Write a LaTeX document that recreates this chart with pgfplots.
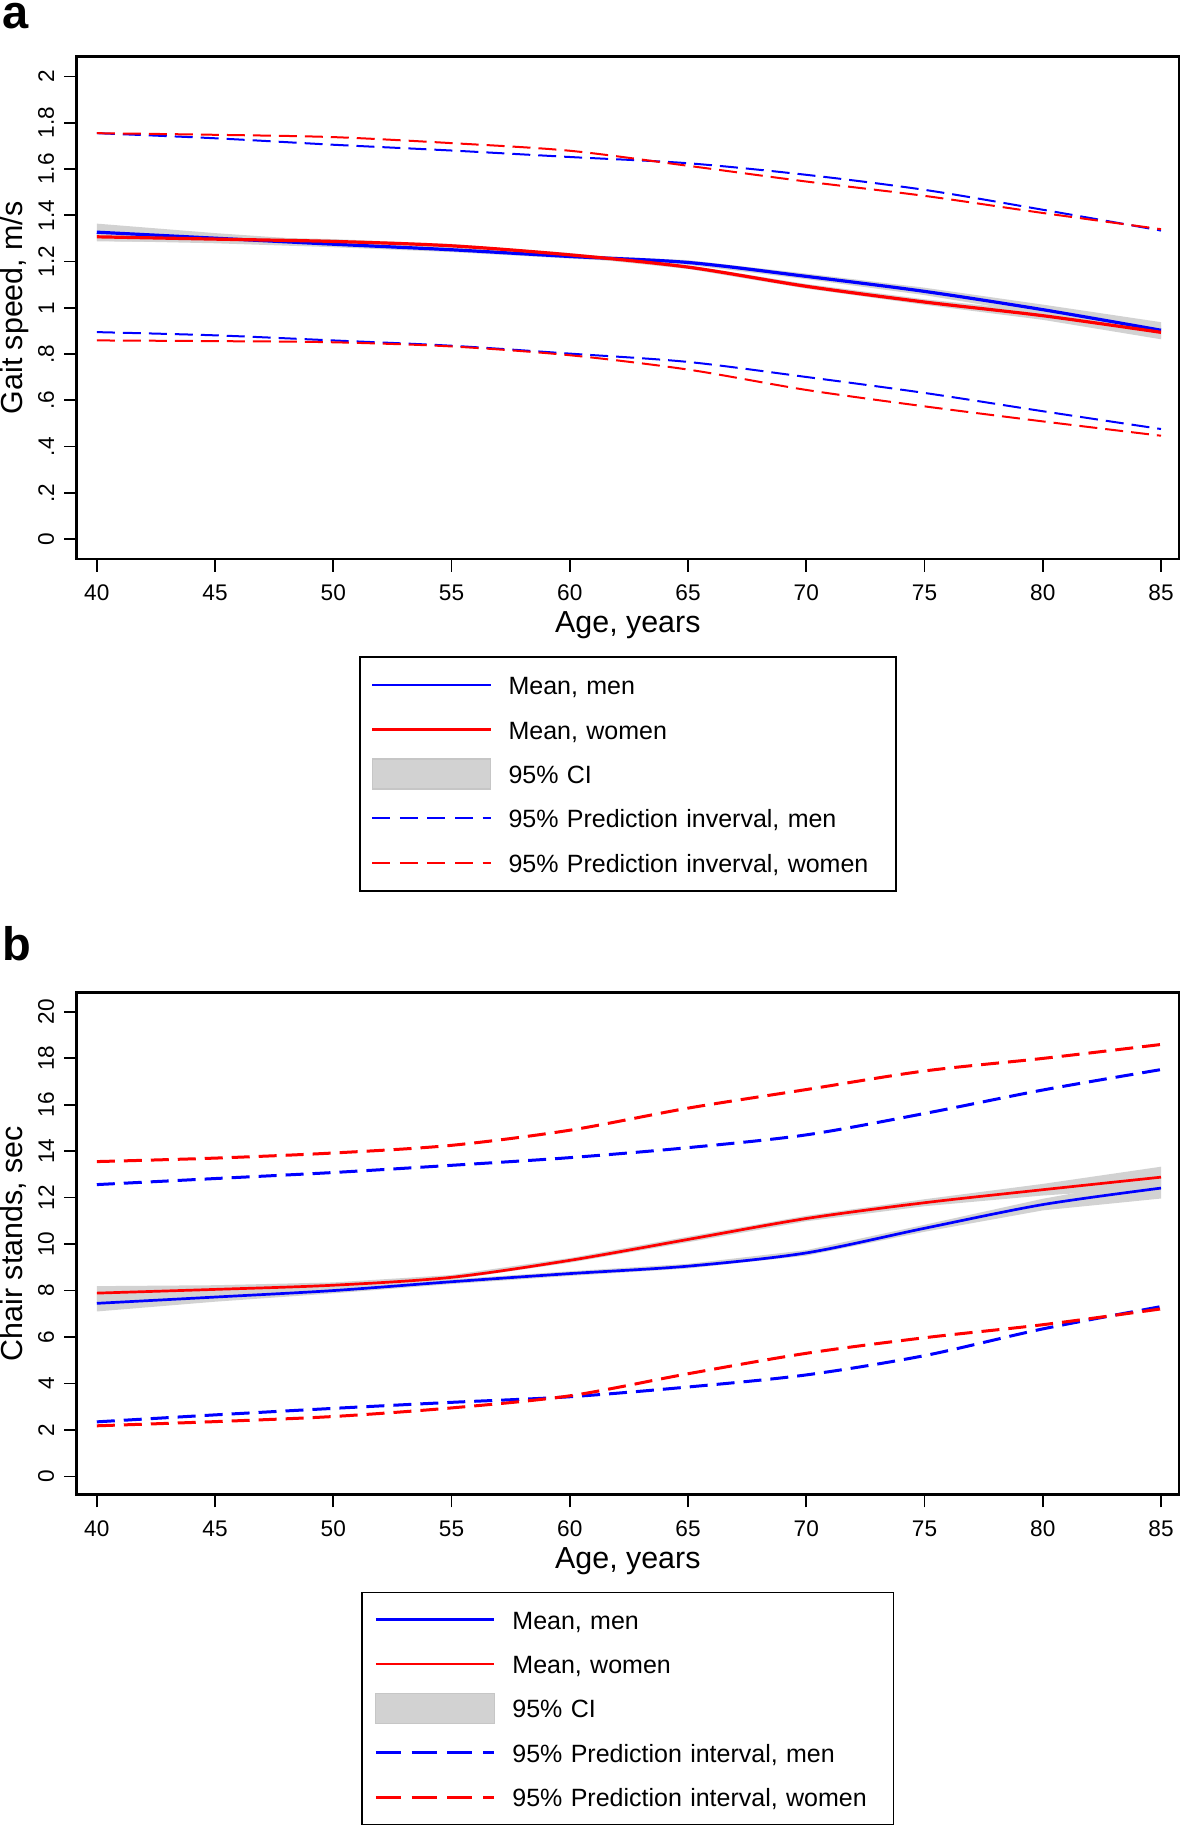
\documentclass[border=0pt]{standalone}
\usepackage{fontspec}
\setmainfont{Liberation Sans}
\usepackage{pgfplots}
\pgfplotsset{compat=1.18}

\pgfplotsset{
  panel/.style={
    scale only axis,
    width=551.15pt, height=251.2pt,
    xmin=39.15, xmax=85.76,
    xtick={40,45,...,85},
    xtick pos=left, ytick pos=left,
    tick align=outside,
    major tick length=6.3pt,
    major tick style={black, line width=0.85pt},
    axis line style={line width=1.35pt},
    /pgf/number format/assume math mode=true,
    tick label style={font=\fontsize{11.3}{13}\selectfont},
    yticklabel style={rotate=90, anchor=south},
    yticklabel shift=1.5pt,
    xticklabel style={yshift=-3.2pt},
    label style={font=\fontsize{15.2}{18}\selectfont},
    xlabel={Age, years},
    xlabel style={at={([yshift=-36.6pt]axis description cs:0.5,0)}, anchor=base},
    ylabel style={at={([xshift=-27.3pt]axis description cs:0,0.5)}, anchor=base},
    legend image code/.code={\draw[#1] (0pt,0pt) -- (59.3pt,0pt);},
    legend cell align=left,
  },
  cilegend/.style={legend image code/.code={\draw[fill=gray!35, draw=gray!45, line width=0.6pt] (0pt,-7.5pt) rectangle (59.3pt,7.5pt);}},
}

\begin{document}
\begin{tikzpicture}
\path[use as bounding box] (0,0) rectangle (590.5pt,-914pt);

\node[anchor=base west, inner sep=0pt, font=\fontsize{23.5}{28}\selectfont\bfseries] at (0.85pt,-14.4pt) {a};
\node[anchor=base west, inner sep=0pt, font=\fontsize{23.5}{28}\selectfont\bfseries] at (0.85pt,-480.35pt) {b};

% ---------------- Panel a ----------------
\begin{axis}[panel,
  at={(38.35pt,-28.3pt)}, anchor=north west,
  ymin=-0.086, ymax=2.086,
  ytick={0,0.2,0.4,0.6,0.8,1,1.2,1.4,1.6,1.8,2},
  yticklabels={0,.2,.4,.6,.8,1,1.2,1.4,1.6,1.8,2},
  ylabel={Gait speed, m/s},
  legend style={at={(0.5,-0.1933)}, anchor=north, draw=black, line width=0.85pt,
    font=\fontsize{12.5}{15}\selectfont,
    inner xsep=5.7pt, inner ysep=5.85pt, row sep=5.7pt, column sep=6.3pt,
    nodes={inner sep=2pt, text width=186pt, text height=11pt, text depth=1.5pt}},
]
% CI bands
\addplot[fill=gray!35, draw=none, forget plot] coordinates {
 (40,1.364)(45,1.323)(50,1.288)(55,1.261)(60,1.231)(65,1.206)(70,1.148)(75,1.087)(80,1.014)(85,0.938)
 (85,0.868)(80,0.970)(75,1.055)(70,1.124)(65,1.186)(60,1.213)(55,1.241)(50,1.262)(45,1.279)(40,1.290)};
\addplot[fill=gray!35, draw=none, forget plot] coordinates {
 (40,1.327)(45,1.309)(50,1.297)(55,1.276)(60,1.237)(65,1.184)(70,1.103)(75,1.037)(80,0.984)(85,0.924)
 (85,0.864)(80,0.948)(75,1.013)(70,1.083)(65,1.168)(60,1.221)(55,1.260)(50,1.277)(45,1.285)(40,1.287)};
% prediction intervals
\addplot[blue, line width=1pt, dash pattern=on 9pt off 4pt, smooth, forget plot] coordinates {
 (40,1.755)(45,1.733)(50,1.705)(55,1.68)(60,1.652)(65,1.625)(70,1.575)(75,1.51)(80,1.424)(85,1.334)};
\addplot[blue, line width=1pt, dash pattern=on 9pt off 4pt, smooth, forget plot] coordinates {
 (40,0.895)(45,0.881)(50,0.859)(55,0.836)(60,0.802)(65,0.766)(70,0.701)(75,0.632)(80,0.553)(85,0.476)};
\addplot[red, line width=1pt, dash pattern=on 9pt off 4pt, smooth, forget plot] coordinates {
 (40,1.755)(45,1.748)(50,1.738)(55,1.712)(60,1.679)(65,1.614)(70,1.546)(75,1.484)(80,1.41)(85,1.34)};
\addplot[red, line width=1pt, dash pattern=on 9pt off 4pt, smooth, forget plot] coordinates {
 (40,0.859)(45,0.856)(50,0.851)(55,0.833)(60,0.795)(65,0.733)(70,0.645)(75,0.574)(80,0.509)(85,0.447)};
% means
\addplot[blue, line width=1.6pt, smooth, forget plot] coordinates {
 (40,1.327)(45,1.301)(50,1.275)(55,1.251)(60,1.222)(65,1.196)(70,1.136)(75,1.071)(80,0.992)(85,0.903)};
\addplot[red, line width=1.6pt, smooth, forget plot] coordinates {
 (40,1.307)(45,1.297)(50,1.287)(55,1.268)(60,1.229)(65,1.176)(70,1.093)(75,1.025)(80,0.966)(85,0.894)};
% legend
\addlegendimage{blue, line width=1.1pt}
\addlegendentry{Mean, men}
\addlegendimage{red, line width=1.1pt}
\addlegendentry{Mean, women}
\addlegendimage{cilegend}
\addlegendentry{95\% CI}
\addlegendimage{blue, line width=0.9pt, dash pattern=on 9pt off 4.8pt}
\addlegendentry{95\% Prediction inverval, men}
\addlegendimage{red, line width=0.9pt, dash pattern=on 9pt off 4.8pt}
\addlegendentry{95\% Prediction inverval, women}
\end{axis}

% ---------------- Panel b ----------------
\begin{axis}[panel,
  at={(38.35pt,-496.2pt)}, anchor=north west,
  ymin=-0.79, ymax=20.83,
  ytick={0,2,...,20},
  ylabel={Chair stands, sec},
  legend style={at={(0.5,-0.1927)}, anchor=north, draw=black, line width=0.85pt,
    font=\fontsize{12.5}{15}\selectfont,
    inner xsep=6.05pt, inner ysep=5.35pt, row sep=5.7pt, column sep=6.3pt,
    nodes={inner sep=2pt, text width=182.4pt, text height=11pt, text depth=1.5pt}},
]
% CI bands
\addplot[fill=gray!35, draw=none, forget plot] coordinates {
 (40,7.8)(45,7.92)(50,8.12)(55,8.48)(60,8.83)(65,9.15)(70,9.74)(75,10.83)(80,11.95)(85,12.86)
 (85,11.96)(80,11.45)(75,10.53)(70,9.5)(65,8.95)(60,8.63)(55,8.28)(50,7.88)(45,7.52)(40,7.1)};
\addplot[fill=gray!35, draw=none, forget plot] coordinates {
 (40,8.19)(45,8.23)(50,8.35)(55,8.67)(60,9.4)(65,10.32)(70,11.22)(75,11.93)(80,12.59)(85,13.33)
 (85,12.43)(80,12.09)(75,11.63)(70,10.98)(65,10.08)(60,9.2)(55,8.47)(50,8.11)(45,7.87)(40,7.59)};
% prediction intervals
\addplot[blue, line width=1.5pt, dash pattern=on 9pt off 4.5pt, smooth, forget plot] coordinates {
 (40,12.56)(45,12.82)(50,13.08)(55,13.39)(60,13.72)(65,14.15)(70,14.7)(75,15.62)(80,16.63)(85,17.51)};
\addplot[blue, line width=1.5pt, dash pattern=on 9pt off 4.5pt, smooth, forget plot] coordinates {
 (40,2.35)(45,2.65)(50,2.93)(55,3.19)(60,3.43)(65,3.85)(70,4.37)(75,5.2)(80,6.35)(85,7.31)};
\addplot[red, line width=1.5pt, dash pattern=on 9pt off 4.5pt, smooth, forget plot] coordinates {
 (40,13.55)(45,13.7)(50,13.92)(55,14.25)(60,14.9)(65,15.85)(70,16.65)(75,17.45)(80,17.99)(85,18.59)};
\addplot[red, line width=1.5pt, dash pattern=on 9pt off 4.5pt, smooth, forget plot] coordinates {
 (40,2.18)(45,2.36)(50,2.58)(55,2.95)(60,3.47)(65,4.42)(70,5.3)(75,5.97)(80,6.53)(85,7.21)};
% means
\addplot[blue, line width=1.35pt, smooth, forget plot] coordinates {
 (40,7.45)(45,7.72)(50,8.0)(55,8.38)(60,8.73)(65,9.05)(70,9.62)(75,10.68)(80,11.7)(85,12.41)};
\addplot[red, line width=1.35pt, smooth, forget plot] coordinates {
 (40,7.89)(45,8.05)(50,8.23)(55,8.57)(60,9.3)(65,10.2)(70,11.1)(75,11.78)(80,12.34)(85,12.88)};
% legend
\addlegendimage{blue, line width=1.3pt}
\addlegendentry{Mean, men}
\addlegendimage{red, line width=1.3pt}
\addlegendentry{Mean, women}
\addlegendimage{cilegend}
\addlegendentry{95\% CI}
\addlegendimage{blue, line width=1.4pt, dash pattern=on 12.5pt off 5.4pt}
\addlegendentry{95\% Prediction interval, men}
\addlegendimage{red, line width=1.4pt, dash pattern=on 12.5pt off 5.4pt}
\addlegendentry{95\% Prediction interval, women}
\end{axis}
\end{tikzpicture}
\end{document}
